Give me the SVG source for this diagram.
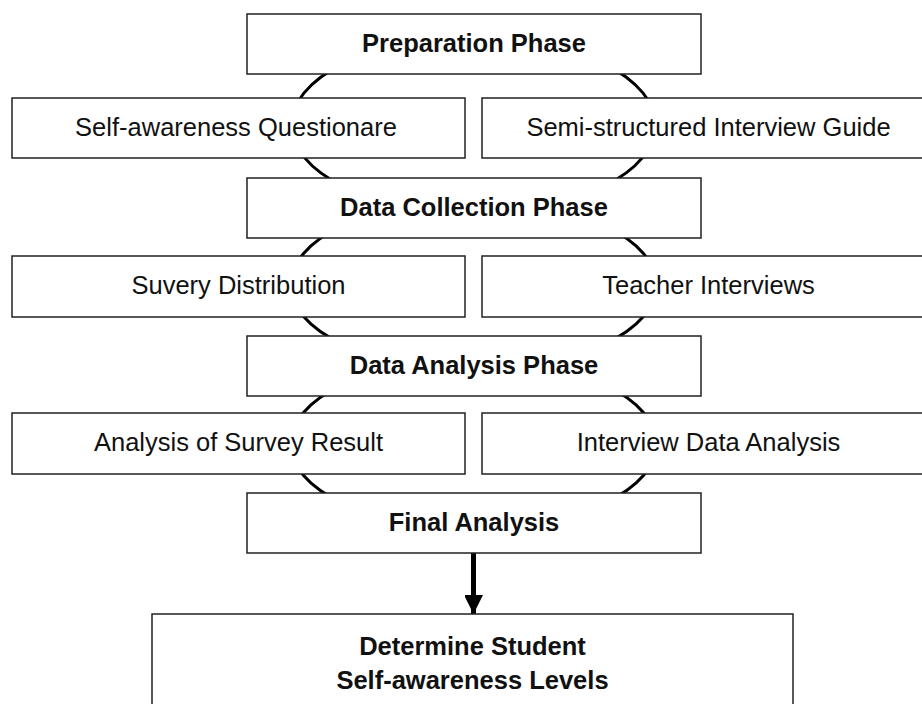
<svg xmlns="http://www.w3.org/2000/svg" width="922" height="704" viewBox="0 0 922 704">
  <defs>
    <style>
      .box { fill: #ffffff; stroke: #222222; stroke-width: 1.5; }
      .cycle { fill: none; stroke: #000000; stroke-width: 3; }
      .flow { fill: none; stroke: #000000; stroke-width: 5; }
      .t { font-family: "Liberation Sans", Arial, sans-serif; font-size: 25.5px; fill: #111111; text-anchor: middle; }
      .b { font-weight: bold; }
    </style>
    <marker id="head" markerUnits="userSpaceOnUse" markerWidth="20" markerHeight="18" refX="19" refY="9.5" orient="auto">
      <path d="M0,0 L19,9.5 L0,19 Z" fill="#000000"/>
    </marker>
  </defs>
  <rect width="922" height="704" fill="#ffffff"/>

  <!-- cycle rings linking each phase to its tasks, plus the final arrow -->
  <g id="connectors">
    <ellipse class="cycle" cx="473.5" cy="125" rx="182" ry="88"/>
    <ellipse class="cycle" cx="473.5" cy="285" rx="183" ry="85"/>
    <ellipse class="cycle" cx="473.5" cy="444" rx="183" ry="85"/>
    <path class="flow" d="M473.5,553 L473.5,614" marker-end="url(#head)"/>
  </g>

  <g id="preparation">
    <rect class="box" x="247" y="14" width="454" height="60"/>
    <text class="t b" x="474" y="52">Preparation Phase</text>
  </g>
  <g id="questionnaire">
    <rect class="box" x="12" y="98" width="453" height="60"/>
    <text class="t" x="236" y="136">Self-awareness Questionare</text>
  </g>
  <g id="interview-guide">
    <rect class="box" x="482" y="98" width="453" height="60"/>
    <text class="t" x="708.5" y="136">Semi-structured Interview Guide</text>
  </g>

  <g id="data-collection">
    <rect class="box" x="247" y="178" width="454" height="60"/>
    <text class="t b" x="474" y="216">Data Collection Phase</text>
  </g>
  <g id="survey-distribution">
    <rect class="box" x="12" y="256" width="453" height="61"/>
    <text class="t" x="238.5" y="294">Suvery Distribution</text>
  </g>
  <g id="teacher-interviews">
    <rect class="box" x="482" y="256" width="453" height="61"/>
    <text class="t" x="708.5" y="294">Teacher Interviews</text>
  </g>

  <g id="data-analysis">
    <rect class="box" x="247" y="336" width="454" height="60"/>
    <text class="t b" x="474" y="374">Data Analysis Phase</text>
  </g>
  <g id="survey-analysis">
    <rect class="box" x="12" y="413" width="453" height="61"/>
    <text class="t" x="238.5" y="451">Analysis of Survey Result</text>
  </g>
  <g id="interview-analysis">
    <rect class="box" x="482" y="413" width="453" height="61"/>
    <text class="t" x="708.5" y="451">Interview Data Analysis</text>
  </g>

  <g id="final-analysis">
    <rect class="box" x="247" y="493" width="454" height="60"/>
    <text class="t b" x="474" y="531">Final Analysis</text>
  </g>

  <g id="outcome">
    <rect class="box" x="152" y="614" width="641" height="100"/>
    <text class="t b" x="472.5" y="655">Determine Student</text>
    <text class="t b" x="472.5" y="689">Self-awareness Levels</text>
  </g>
</svg>
